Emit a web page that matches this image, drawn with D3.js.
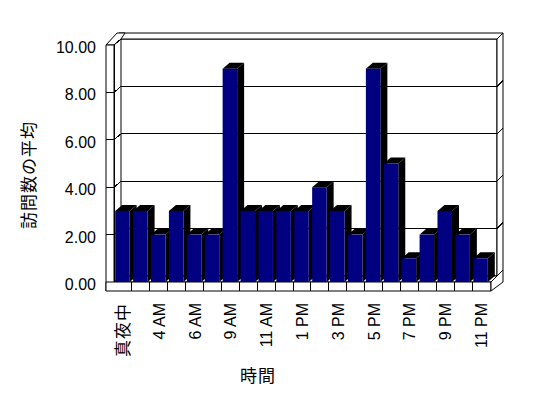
<!DOCTYPE html>
<meta charset="utf-8">
<body style="margin:0;background:#fff">
<script src="https://cdnjs.cloudflare.com/ajax/libs/d3/7.8.5/d3.min.js"></script>
<script>
// hours of the day (only every other one gets a label)
var hours = ["真夜中", "1 AM", "4 AM", "5 AM", "6 AM", "7 AM", "9 AM", "10 AM", "11 AM", "12 PM",
  "1 PM", "2 PM", "3 PM", "4 PM", "5 PM", "6 PM", "7 PM", "8 PM", "9 PM", "10 PM", "11 PM"];
var visits = [3, 3, 2, 3, 2, 2, 9, 3, 3, 3, 3, 4, 3, 2, 9, 5, 1, 2, 3, 2, 1];
var yTicks = [0, 2, 4, 6, 8, 10];
var yTitle = "訪問数の平均";
var xTitle = "時間";

var width = 548, height = 398;
var font = "'Liberation Sans', Arial, 'Noto Sans CJK JP', sans-serif";

// depth of the plot box, and thickness of the back wall
var dx = 7, dy = -6;
var tx = 6, ty = -6;

var svg = d3.select("body").append("svg")
  .attr("width", width)
  .attr("height", height)
  .style("display", "block");

var x = d3.scaleBand()
  .domain(hours)
  .range([114, 490]);

var y = d3.scaleLinear()
  .domain([0, 10])
  .range([282, 45]);

var x0 = x.range()[0], x1 = x.range()[1];
var y0 = y(0), yTop = y(10);

function line(g, a, b, c, d) {
  g.append("line")
    .attr("x1", a).attr("y1", b).attr("x2", c).attr("y2", d)
    .attr("stroke", "black").attr("stroke-width", 1)
    .attr("shape-rendering", "crispEdges");
}
function poly(g, pts, fill) {
  g.append("polygon")
    .attr("points", pts.map(function(p) { return p.join(","); }).join(" "))
    .attr("fill", fill)
    .attr("stroke", "black")
    .attr("stroke-width", 1)
    .attr("stroke-linejoin", "miter");
}

var walls = svg.append("g");

// back wall (front face + thickness)
var bl = x0 + dx, br = x1 + dx, bt = yTop + dy, bb = y0 + dy;
poly(walls, [[bl, bt], [br, bt], [br, bb], [bl, bb]], "white");
poly(walls, [[bl - 2, bt + ty], [br + tx, bt + ty], [br, bt], [bl, bt]], "white");
poly(walls, [[br, bt], [br + tx, bt + ty], [br + tx, bb + ty], [br, bb]], "white");

// gridlines on the back wall
yTicks.slice(1, -1).forEach(function(v) {
  line(walls, bl, y(v) + dy, br, y(v) + dy);
  line(walls, br, y(v) + dy, br + tx, y(v) + dy + ty);
});

// left side wall
var sw = 8;
poly(walls, [[x0 - sw, yTop], [x0, yTop], [x0 + dx, yTop + dy], [x0 + dx + tx - 2, yTop + dy + ty],
  [x0 - sw + dx + tx - 2, yTop + dy + ty]], "white");
poly(walls, [[x0 - sw, yTop], [x0, yTop], [x0, y0], [x0 - sw, y0 + 9]], "white");
yTicks.forEach(function(v) {
  if (v > 0 && v < 10) line(walls, x0 - sw, y(v), x0, y(v));
  line(walls, x0, y(v), x0 + dx, y(v) + dy);
});

// floor
var fr = x1 + 1;
poly(walls, [[x0, y0], [fr, y0], [fr + dx, y0 + dy], [x0 + dx, y0 + dy]], "white");
poly(walls, [[x0 - sw, y0], [fr, y0], [fr, y0 + 9], [x0 - sw, y0 + 9]], "white");
poly(walls, [[fr, y0], [fr + dx + tx - 1, y0 + dy + ty], [fr + dx + tx - 1, y0 + 9 + dy + ty + 3], [fr, y0 + 9]], "white");
line(walls, x0, y0, x0, yTop);
hours.forEach(function(h, i) {
  if (i > 0) line(walls, x(h), y0, x(h), y0 + 9);
});

// bars: front, top and side
var bw = 14.5, off = 1.2;
var bars = svg.append("g");
hours.forEach(function(h, i) {
  var bx = x(h) + off, yt = y(visits[i]);
  var g = bars.append("g");
  g.append("polygon")
    .attr("points", [[bx + bw, yt], [bx + bw + dx, yt + dy], [bx + bw + dx, y0 + dy], [bx + bw, y0]].join(" "))
    .attr("fill", "black");
  g.append("polygon")
    .attr("points", [[bx, yt], [bx + bw, yt], [bx + bw + dx, yt + dy], [bx + dx, yt + dy]].join(" "))
    .attr("fill", "black");
  g.append("rect")
    .attr("x", bx).attr("y", yt)
    .attr("width", bw).attr("height", y0 - yt)
    .attr("fill", "#000080");
});

// y axis labels
svg.append("g").selectAll("text")
  .data(yTicks)
  .enter().append("text")
  .attr("x", 96)
  .attr("y", function(d) { return y(d) + 8; })
  .attr("text-anchor", "end")
  .attr("font-family", font)
  .attr("font-size", 16)
  .attr("fill", "black")
  .text(function(d) { return d.toFixed(2); });

// x axis labels, every other hour
svg.append("g").selectAll("text")
  .data(hours.filter(function(h, i) { return i % 2 == 0; }))
  .enter().append("text")
  .attr("transform", function(d) {
    return "translate(" + (x(d) + x.bandwidth() / 2 + 0.5) + "," + 303 + ") rotate(-90)";
  })
  .attr("text-anchor", "end")
  .attr("dominant-baseline", "central")
  .attr("font-family", font)
  .attr("font-size", function(d) { return /AM|PM/.test(d) ? 16 : 17; })
  .attr("letter-spacing", function(d) { return /AM|PM/.test(d) ? 0 : 1; })
  .attr("fill", "black")
  .text(function(d) { return d; });

// titles
svg.append("text")
  .attr("transform", "translate(29,175) rotate(-90)")
  .attr("text-anchor", "middle")
  .attr("dominant-baseline", "central")
  .attr("font-family", font)
  .attr("font-size", 17)
  .attr("letter-spacing", 1)
  .text(yTitle);

svg.append("text")
  .attr("x", 258)
  .attr("y", 376)
  .attr("text-anchor", "middle")
  .attr("dominant-baseline", "central")
  .attr("font-family", font)
  .attr("font-size", 17)
  .attr("letter-spacing", 1)
  .text(xTitle);
</script>
</body>
